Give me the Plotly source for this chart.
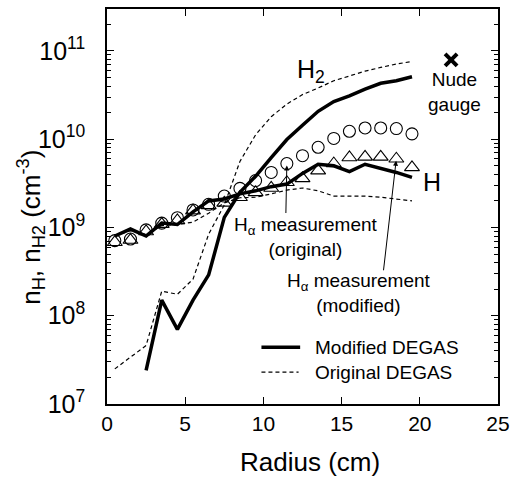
import math
import plotly.graph_objects as go

# Radial positions (cm) of the simulation bins and measurements
radius = [0.5, 1.5, 2.5, 3.5, 4.5, 5.5, 6.5, 7.5, 8.5, 9.5,
          10.5, 11.5, 12.5, 13.5, 14.5, 15.5, 16.5, 17.5, 18.5, 19.5]
radius_h2_mod = [2.5, 3.5, 4.5, 5.5, 6.5, 7.5, 8.5, 9.5,
                 10.5, 11.5, 12.5, 13.5, 14.5, 15.5, 16.5, 17.5, 18.5, 19.5]

# Modified DEGAS densities (cm^-3)
mod_h = [8.0e8, 9.6e8, 8.0e8, 1.12e9, 1.08e9, 1.5e9, 2.0e9, 2.1e9, 2.4e9, 2.6e9,
         2.9e9, 3.1e9, 4.1e9, 5.2e9, 5.0e9, 4.3e9, 5.2e9, 4.7e9, 4.2e9, 3.7e9]
mod_h2 = [2.4e7, 1.5e8, 7.0e7, 1.5e8, 2.9e8, 1.3e9, 2.5e9, 3.8e9,
          6.2e9, 9.9e9, 1.44e10, 2.07e10, 2.67e10, 3.1e10, 3.7e10, 4.3e10, 4.6e10, 5.1e10]

# Original DEGAS densities (cm^-3)
orig_h = [8.0e8, 9.2e8, 8.3e8, 1.05e9, 1.08e9, 1.15e9, 1.45e9, 1.9e9, 2.17e9, 2.2e9,
          2.4e9, 2.65e9, 2.8e9, 2.6e9, 2.27e9, 2.27e9, 2.27e9, 2.2e9, 2.1e9, 2.0e9]
orig_h2 = [2.5e7, 3.4e7, 4.6e7, 1.9e8, 1.75e8, 2.6e8, 8.4e8, 1.8e9, 5.6e9, 1.12e10,
           1.8e10, 2.5e10, 3.2e10, 3.8e10, 4.6e10, 5.2e10, 5.9e10, 6.5e10, 7.1e10, 7.6e10]

# H-alpha derived atomic densities (cm^-3)
halpha_original = [7.1e8, 7.4e8, 9.4e8, 1.12e9, 1.29e9, 1.58e9, 1.83e9, 2.27e9, 2.77e9, 3.4e9,
                   4.2e9, 5.3e9, 6.5e9, 8.1e9, 1.02e10, 1.23e10, 1.34e10, 1.34e10, 1.32e10, 1.15e10]
halpha_modified = [6.8e8, 7.2e8, 9.0e8, 1.09e9, 1.2e9, 1.55e9, 1.78e9, 1.9e9, 2.2e9, 2.5e9,
                   2.8e9, 3.25e9, 3.6e9, 4.4e9, 5.3e9, 6.2e9, 6.3e9, 6.3e9, 6.0e9, 4.8e9]

# Nude ionization gauge reading
gauge_r = [22.0]
gauge_n2 = [7.9e10]

# Legend entries
legend_labels = ["Modified DEGAS", "Original DEGAS"]

FONT = "Liberation Sans, Arial, Helvetica, sans-serif"
BLACK = "black"
solid = dict(color=BLACK, width=3.5)
dashed = dict(color=BLACK, width=1.2, dash="4px,3px")

fig = go.Figure()

fig.add_trace(go.Scatter(x=radius, y=orig_h, mode="lines", line=dashed, showlegend=False))
fig.add_trace(go.Scatter(x=radius, y=orig_h2, mode="lines", line=dashed, showlegend=False))
fig.add_trace(go.Scatter(x=radius, y=halpha_original, mode="markers",
                         marker=dict(symbol="circle-open", size=12, color=BLACK,
                                     line=dict(width=1.1, color=BLACK)),
                         showlegend=False))
fig.add_trace(go.Scatter(x=radius, y=halpha_modified, mode="markers",
                         marker=dict(symbol="triangle-up-open", size=13, color=BLACK,
                                     line=dict(width=1.1, color=BLACK)),
                         showlegend=False))
fig.add_trace(go.Scatter(x=radius, y=mod_h, mode="lines", line=solid, showlegend=False))
fig.add_trace(go.Scatter(x=radius_h2_mod, y=mod_h2, mode="lines", line=solid, showlegend=False))
fig.add_trace(go.Scatter(x=gauge_r, y=gauge_n2, mode="markers",
                         marker=dict(symbol="x-thin", size=12, color=BLACK,
                                     line=dict(width=4, color=BLACK)),
                         showlegend=False))

ann_font = dict(family=FONT, size=19, color=BLACK)
lab_font = dict(family=FONT, size=25, color=BLACK)

annotations = [
    dict(x=13.05, y=10.77, xref="x", yref="y", text="H<sub>2</sub>",
         showarrow=False, font=lab_font),
    dict(x=20.75, y=9.51, xref="x", yref="y", text="H",
         showarrow=False, font=lab_font),
    dict(x=22.2, y=10.53, xref="x", yref="y", text="Nude<br>gauge",
         showarrow=False, font=ann_font),
    dict(x=12.75, y=8.89, xref="x", yref="y",
         text="H<sub>α</sub> measurement<br>(original)",
         showarrow=False, font=ann_font),
    dict(x=16.11, y=8.26, xref="x", yref="y",
         text="H<sub>α</sub> measurement<br>(modified)",
         showarrow=False, font=ann_font),
    # arrows from the captions to the measurement markers
    dict(x=radius[11], y=math.log10(halpha_original[11]), xref="x", yref="y",
         text="", showarrow=True, ax=-1, ay=51, arrowhead=2, arrowsize=1,
         arrowwidth=1, arrowcolor=BLACK, standoff=2),
    dict(x=radius[18], y=math.log10(halpha_modified[18]), xref="x", yref="y",
         text="", showarrow=True, ax=-13, ay=113, arrowhead=2, arrowsize=1,
         arrowwidth=1, arrowcolor=BLACK, standoff=2),
    # legend captions
    dict(x=0.527, y=0.1436, xref="paper", yref="paper", text=legend_labels[0],
         xanchor="left", yanchor="middle", showarrow=False, font=ann_font),
    dict(x=0.527, y=0.0806, xref="paper", yref="paper", text=legend_labels[1],
         xanchor="left", yanchor="middle", showarrow=False, font=ann_font),
    # axis titles
    dict(x=0.519, y=-0.146, xref="paper", yref="paper", text="Radius (cm)",
         xanchor="center", yanchor="middle",
         showarrow=False, font=dict(family=FONT, size=26, color=BLACK)),
    dict(x=-0.195, y=0.448, xref="paper", yref="paper",
         text="n<sub>H</sub>, n<sub>H2</sub> (cm<sup>-3</sup>)", textangle=-90,
         xanchor="center", yanchor="middle",
         showarrow=False, font=dict(family=FONT, size=26, color=BLACK)),
]

# legend line samples
shapes = [
    dict(type="line", xref="paper", yref="paper", x0=0.395, x1=0.494,
         y0=0.1436, y1=0.1436, line=solid),
    dict(type="line", xref="paper", yref="paper", x0=0.395, x1=0.49,
         y0=0.0806, y1=0.0806, line=dashed),
]

axis_common = dict(showline=True, linecolor=BLACK, linewidth=1.5, mirror="ticks",
                   ticks="inside", tickcolor=BLACK, tickwidth=1.2, ticklen=7,
                   showgrid=False, zeroline=False)

fig.update_layout(
    width=517, height=481,
    margin=dict(l=107, r=15, t=7, b=77),
    paper_bgcolor="white", plot_bgcolor="white",
    font=dict(family=FONT, color=BLACK),
    showlegend=False,
    annotations=annotations,
    shapes=shapes,
    xaxis=dict(range=[0, 25], dtick=5, tick0=0,
               tickfont=dict(family=FONT, size=21, color=BLACK), **axis_common),
    yaxis=dict(type="log", range=[7, 11.475], dtick=1, exponentformat="power",
               showexponent="all", ticklabelstandoff=16,
               tickfont=dict(family=FONT, size=20, color=BLACK),
               minor=dict(ticks="inside", ticklen=4, tickcolor=BLACK, dtick="D1",
                          showgrid=False),
               **axis_common),
)

fig.write_html("out.html")
